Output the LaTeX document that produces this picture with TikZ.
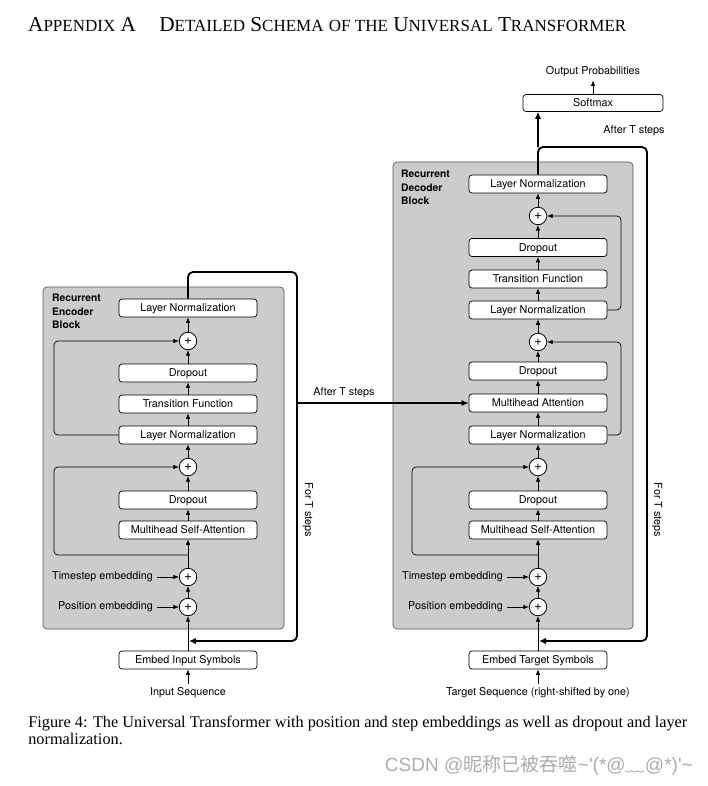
\documentclass[tikz,border=0pt]{standalone}
\usepackage{fontspec}
\setmainfont{Liberation Serif}
\newfontfamily\diagfont{TeX Gyre Heros}
\newfontfamily\cjkfont{Noto Sans CJK SC}
\newfontfamily\wmlat{Liberation Sans}
\usetikzlibrary{arrows.meta}
\newlength\capw
\newcommand\tsc[1]{{\fontsize{16}{16}\selectfont #1}}
\newcommand\dfs{\diagfont\fontsize{10.8}{12.8}\selectfont}
\newcommand\capline{Figure 4: The Universal Transformer with position and step embeddings as well as dropout and layer}
\tikzset{
  blk/.style={draw=black!65, fill=black!20, rounded corners=4pt, line width=0.7pt},
  box/.style={draw=black, fill=white, rounded corners=3pt, line width=0.7pt,
    minimum width=138pt, minimum height=18pt, inner sep=0pt, font=\dfs,
    text height=7.8pt, text depth=0pt},
  plus/.style={circle, draw=black, fill=white, line width=0.8pt,
    minimum size=17.5pt, inner sep=0pt, font=\diagfont\fontsize{13.5}{13.5}\selectfont},
  arr/.style={-{Latex[length=5.5pt,width=4.5pt]}, line width=0.7pt},
  bigarr/.style={-{Latex[length=7pt,width=6.5pt]}, line width=1.8pt, rounded corners=5pt},
  midarr/.style={-{Latex[length=7pt,width=6pt]}, line width=1.2pt},
  res/.style={arr, rounded corners=4pt},
  lbl/.style={font=\dfs, inner sep=0pt},
  blabel/.style={font=\diagfont\bfseries\fontsize{10.3}{13.6}\selectfont, inner sep=0pt, align=left, anchor=north west},
}
\begin{document}
\settowidth\capw{\fontsize{10}{12}\selectfont\capline}%
\pgfmathsetmacro\capsc{659/\capw}%
\begin{tikzpicture}[x=1pt,y=-1pt]
\useasboundingbox[fill=white] (0,0) rectangle (708,786);

% title
\node[anchor=base west, inner sep=0pt] (title) at (28,31.5) {\resizebox{598pt}{!}{\fontsize{20}{20}\selectfont A\tsc{PPENDIX} A\hspace{1.1em}D\tsc{ETAILED} S\tsc{CHEMA} \tsc{OF THE} U\tsc{NIVERSAL} T\tsc{RANSFORMER}}};

% gray blocks
\draw[blk] (43,287) rectangle (284,629);
\draw[blk] (393,162) rectangle (633,629);
\node[blabel] (eblk) at (52,294) {Recurrent\\Encoder\\Block};
\node[blabel] (dblk) at (401,170) {Recurrent\\Decoder\\Block};

% ---------------- encoder ----------------
\node[box] (eln2) at (188,308) {Layer Normalization};
\node[plus] (ep2) at (188,341) {+};
\node[box] (edo2) at (188,373) {Dropout};
\node[box] (etf) at (188,404) {Transition Function};
\node[box] (eln1) at (188,435) {Layer Normalization};
\node[plus] (ep1) at (188,467) {+};
\node[box] (edo1) at (188,500) {Dropout};
\node[box] (emsa) at (188,530) {Multihead Self-Attention};
\coordinate (ebr) at (188,555);
\node[plus] (ets) at (188,577) {+};
\node[plus] (epos) at (188,607) {+};
\node[box] (eemb) at (188,660) {Embed Input Symbols};
\node[lbl] (ein) at (188,693) {Input Sequence};
\node[lbl, anchor=east] (etsl) at (153,577) {Timestep embedding};
\node[lbl, anchor=east] (eposl) at (153,607) {Position embedding};

\draw[arr, shorten <=4pt] (ein) -- (eemb);
\draw[arr] (eemb) -- (epos);
\draw[arr] (epos) -- (ets);
\draw[arr] (ets) -- (emsa);
\draw[arr] (emsa) -- (edo1);
\draw[arr] (edo1) -- (ep1);
\draw[arr] (ep1) -- (eln1);
\draw[arr] (eln1) -- (etf);
\draw[arr] (etf) -- (edo2);
\draw[arr] (edo2) -- (ep2);
\draw[arr] (ep2) -- (eln2);
\draw[arr, shorten <=4pt] (etsl) -- (ets);
\draw[arr, shorten <=4pt] (eposl) -- (epos);
\draw[res] (ebr) -| (54,467) -- (ep1);
\draw[res] (eln1.west) -| (54,341) -- (ep2);

\coordinate (etop) at (188,272);
\coordinate (eright) at (297,272);
\coordinate (efb) at (297,641);
\coordinate (eback) at (189,641);
\draw[bigarr] (eln2.north) -- (etop) -- (eright) -- (efb) -- (eback);
\node[lbl, rotate=-90] (efor) at (308,510) {For T steps};

% ---------------- decoder ----------------
\node[box] (dln3) at (538,184) {Layer Normalization};
\node[plus] (dp3) at (538,216) {+};
\node[box] (ddo2) at (538,247.5) {Dropout};
\node[box] (dtf) at (538,279) {Transition Function};
\node[box] (dln2) at (538,310) {Layer Normalization};
\node[plus] (dp2) at (538,342) {+};
\node[box] (ddo1) at (538,371) {Dropout};
\node[box] (dmha) at (538,403) {Multihead Attention};
\node[box] (dln1) at (538,435) {Layer Normalization};
\node[plus] (dp1) at (538,467) {+};
\node[box] (ddo0) at (538,500) {Dropout};
\node[box] (dmsa) at (538,530) {Multihead Self-Attention};
\coordinate (dbr) at (538,555);
\node[plus] (dts) at (538,577) {+};
\node[plus] (dpos) at (538,607) {+};
\node[box] (demb) at (538,660) {Embed Target Symbols};
\node[lbl] (din) at (538,693) {Target Sequence (right-shifted by one)};
\node[lbl, anchor=east] (dtsl) at (503,577) {Timestep embedding};
\node[lbl, anchor=east] (dposl) at (503,607) {Position embedding};

\draw[arr, shorten <=4pt] (din) -- (demb);
\draw[arr] (demb) -- (dpos);
\draw[arr] (dpos) -- (dts);
\draw[arr] (dts) -- (dmsa);
\draw[arr] (dmsa) -- (ddo0);
\draw[arr] (ddo0) -- (dp1);
\draw[arr] (dp1) -- (dln1);
\draw[arr] (dln1) -- (dmha);
\draw[arr] (dmha) -- (ddo1);
\draw[arr] (ddo1) -- (dp2);
\draw[arr] (dp2) -- (dln2);
\draw[arr] (dln2) -- (dtf);
\draw[arr] (dtf) -- (ddo2);
\draw[arr] (ddo2) -- (dp3);
\draw[arr] (dp3) -- (dln3);
\draw[arr, shorten <=4pt] (dtsl) -- (dts);
\draw[arr, shorten <=4pt] (dposl) -- (dpos);
\draw[res] (dbr) -| (412,467) -- (dp1);
\draw[res] (dln1.east) -| (621,342) -- (dp2);
\draw[res] (dln2.east) -| (621,216) -- (dp3);

\coordinate (dtop) at (538,147);
\coordinate (dright) at (647,147);
\coordinate (dfb) at (647,641);
\coordinate (dback) at (539,641);
\draw[bigarr] (dln3.north) -- (dtop) -- (dright) -- (dfb) -- (dback);
\node[lbl, rotate=-90] (dfor) at (657,510) {For T steps};

% softmax
\node[box, minimum width=140pt, minimum height=17pt] (smax) at (593,103) {Softmax};
\node[lbl] (outp) at (593,72) {Output Probabilities};
\draw[bigarr] (dtop) -- (dtop |- smax.south);
\draw[arr, shorten >=3pt] (smax) -- (outp);
\node[lbl] (aft2) at (634,131) {After T steps};

% encoder -> decoder
\coordinate (efrom) at (297,403);
\draw[midarr] (efrom) -- (dmha);
\node[lbl] (aft1) at (344,393) {After T steps};

% caption
\node[anchor=base west, inner sep=0pt, scale=\capsc, font=\fontsize{10}{12}\selectfont] (cap1) at (28,727) {\capline};
\node[anchor=base west, inner sep=0pt, scale=\capsc, font=\fontsize{10}{12}\selectfont] (cap2) at (28,744) {normalization.};

% watermark
\node[anchor=base east, inner sep=0pt, text=black!32] (wm) at (693,771) {\resizebox{308pt}{!}{\wmlat\fontsize{13}{13}\selectfont CSDN @{\cjkfont 昵称已被吞噬}\textasciitilde'(*@{\cjkfont ﹏}@*)'\textasciitilde}};
\end{tikzpicture}
\end{document}
